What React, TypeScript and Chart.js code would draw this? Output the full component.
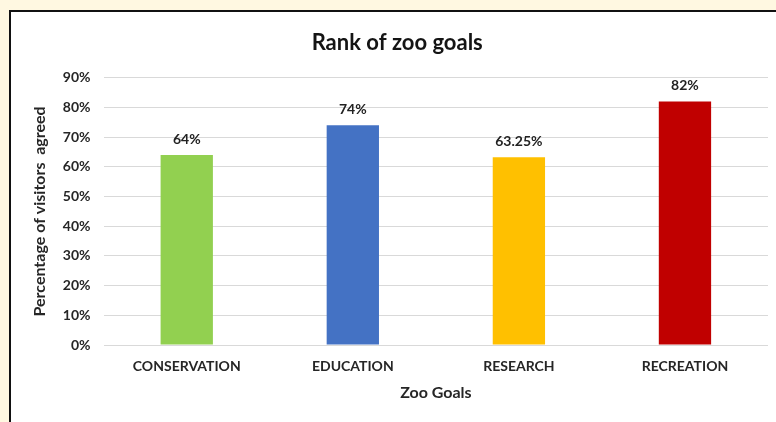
import React, { useEffect, useRef } from "react";
import { Chart, registerables } from "chart.js";

Chart.register(...registerables);

const categories = ["CONSERVATION", "EDUCATION", "RESEARCH", "RECREATION"];
const values = [64, 74, 63.25, 82];
const barColors = ["#92D050", "#4472C4", "#FFC000", "#C00000"];
const yTicks = [0, 10, 20, 30, 40, 50, 60, 70, 80, 90];
const chartTitle = "Rank of zoo goals";
const xTitle = "Zoo Goals";
const yTitle = "Percentage of visitors  agreed";

const FONT = "Lato, 'Open Sans', sans-serif";
const TEXT = "#262626";

const dataLabels = {
  id: "dataLabels",
  afterDatasetsDraw(chart: any) {
    const ctx = chart.ctx;
    const meta = chart.getDatasetMeta(0);
    ctx.save();
    ctx.font = `bold 14px ${FONT}`;
    ctx.fillStyle = "#222222";
    ctx.textAlign = "center";
    ctx.textBaseline = "middle";
    meta.data.forEach((el: any, i: number) => {
      ctx.fillText(`${values[i]}%`, el.x, el.y - 16);
    });
    ctx.restore();
  },
};

export default function App() {
  const ref = useRef<HTMLCanvasElement>(null);
  useEffect(() => {
    if (!ref.current) return;
    const chart = new Chart(ref.current, {
      type: "bar",
      data: {
        labels: categories,
        datasets: [
          {
            data: values,
            backgroundColor: barColors,
            borderWidth: 0,
            categoryPercentage: 1,
            barPercentage: 0.315,
          },
        ],
      },
      options: {
        responsive: false,
        animation: false,
        layout: { padding: { left: 26.4, right: 8, top: 0, bottom: 19.4 } },
        plugins: {
          legend: { display: false },
          tooltip: { enabled: false },
          title: {
            display: true,
            text: chartTitle,
            color: "#141414",
            font: { family: FONT, size: 22, weight: "bold" },
            padding: { top: 29.4, bottom: 22 },
          },
        },
        scales: {
          x: {
            grid: { display: false, drawTicks: false },
            border: { display: false },
            ticks: {
              color: TEXT,
              font: { family: FONT, size: 14, weight: "bold" },
              padding: 12.6,
              maxRotation: 0,
            },
            title: {
              display: true,
              text: xTitle,
              color: TEXT,
              font: { family: FONT, size: 16, weight: "bold" },
              padding: { top: -3.6, bottom: 0 },
            },
          },
          y: {
            min: 0,
            max: 90,
            afterBuildTicks: (scale: any) => {
              scale.ticks = yTicks.map((v) => ({ value: v }));
            },
            grid: { color: "#d9d9d9", lineWidth: 1, drawTicks: false },
            border: { display: false },
            ticks: {
              color: TEXT,
              font: { family: FONT, size: 14, weight: "bold" },
              padding: 13.2,
              callback: (v: any) => `${v}%`,
            },
            title: {
              display: true,
              text: yTitle,
              color: TEXT,
              font: { family: FONT, size: 16, weight: "bold" },
              padding: { top: 4, bottom: 0 },
            },
          },
        },
      },
      plugins: [dataLabels],
    });
    return () => chart.destroy();
  }, []);

  return (
    <div
      style={{
        position: "fixed",
        left: 0,
        top: 0,
        width: 776,
        height: 422,
        background: "#FFF8E1",
        overflow: "hidden",
      }}
    >
      <div
        style={{
          position: "absolute",
          left: 9,
          top: 10,
          width: 820,
          height: 460,
          background: "#ffffff",
          borderLeft: "2px solid #111",
          borderTop: "2px solid #111",
        }}
      />
      <canvas
        ref={ref}
        width={776}
        height={422}
        style={{ position: "absolute", left: 0, top: 0, width: 776, height: 422 }}
      />
    </div>
  );
}
